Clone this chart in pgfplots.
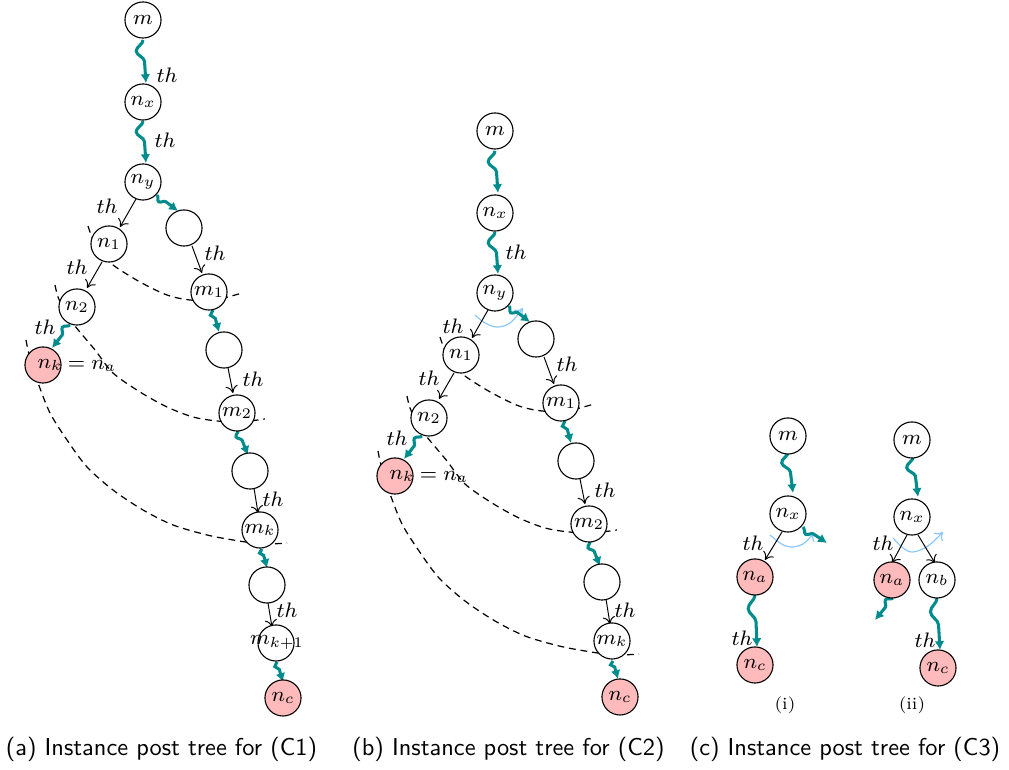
\RequirePackage{fix-cm}
\documentclass[border=0pt]{standalone}
\usepackage{pgfplots}
\pgfplotsset{compat=1.18}
\usetikzlibrary{decorations.pathmorphing,arrows.meta}
\definecolor{tealc}{RGB}{0,140,140}
\definecolor{pinkc}{RGB}{255,187,187}
\definecolor{bluec}{RGB}{140,200,250}
\newcommand\lf{\fontsize{8.6}{10}\selectfont}
\tikzset{
  wv/.style 2 args={draw=tealc, line width=1.25pt, decorate,
     decoration={snake, mirror, segment length=#1, amplitude=#2, post length=3.6pt},
     -{Latex[length=3.6pt,width=4pt]}},
  ed/.style={draw=black, line width=0.4pt, -{To[length=3pt,width=5pt]}},
  dsh/.style={draw=black, line width=0.5pt, dash pattern=on 2.8pt off 2pt, smooth, tension=0.5},
  bl/.style={draw=bluec, line width=0.5pt, smooth, tension=0.6, -{To[length=3pt,width=5pt]}},
  nd/.style={only marks, mark=*, mark size=7.4pt, mark options={fill=white, draw=black, line width=0.45pt}},
  pk/.style={only marks, mark=*, mark size=7.4pt, mark options={fill=pinkc, draw=black, line width=0.45pt}},
}
\pgfplotsset{canvas/.style={
  scale only axis, width=413.69pt, height=315.7pt,
  xmin=0, xmax=1009, ymin=0, ymax=770, y dir=reverse,
  hide axis, clip=false, at={(0,0)}, anchor=south west}}
\begin{document}
\begin{tikzpicture}
\begin{axis}[canvas]
% ---------------- dashed arcs (a)
\addplot[dsh] coordinates {(88,226) (92,237) (100,251) (113,265) (140,282) (167,295) (190,300) (215,300) (242,293)};
\addplot[dsh] coordinates {(55,285) (58,297) (65,311) (75,326) (95,350) (113,373) (140,392) (167,407) (193,417) (217,421) (240,422) (265,419)};
\addplot[dsh] coordinates {(26,340) (28,350) (32,366) (38,383) (50,413) (67,440) (87,467) (113,490) (143,510) (173,525) (207,535) (233,540) (253,543) (270,544) (287,543)};
% ---------------- dashed arcs (b)
\addplot[dsh] coordinates {(440,337) (444,348) (452,362) (465,376) (492,393) (519,406) (542,411) (567,411) (594,404)};
\addplot[dsh] coordinates {(407,396) (410,408) (417,422) (427,437) (447,461) (465,484) (492,503) (519,518) (545,528) (569,532) (592,533) (617,530)};
\addplot[dsh] coordinates {(378,451) (380,461) (384,477) (390,494) (402,524) (419,551) (439,578) (465,601) (495,621) (525,636) (559,646) (585,651) (605,654) (622,655) (639,654)};
% ---------------- blue arcs
\addplot[bl] coordinates {(475,315) (485,323) (497,327) (510,323) (523,308)};
\addplot[bl] coordinates {(770,535) (780,543) (790,547) (803,544) (814,533)};
\addplot[bl] coordinates {(893,538) (903,548) (913,552) (928,546) (943,532)};
% ---------------- black edges (a)
\addplot[ed] coordinates {(136,199) (120,227)};
\addplot[ed] coordinates {(192,246) (202,273)};
\addplot[ed] coordinates {(102,262) (87,288)};
\addplot[ed] coordinates {(228,368) (233,393)};
\addplot[ed] coordinates {(254,488) (258,513)};
\addplot[ed] coordinates {(268,603) (272,627)};
% ---------------- black edges (b)
\addplot[ed] coordinates {(488,310) (472,338)};
\addplot[ed] coordinates {(544,357) (554,384)};
\addplot[ed] coordinates {(454,373) (439,399)};
\addplot[ed] coordinates {(580,479) (585,504)};
\addplot[ed] coordinates {(606,599) (610,624)};
% ---------------- black edges (c)
\addplot[ed] coordinates {(782,532) (765,560)};
\addplot[ed] coordinates {(907,535) (892,563)};
\addplot[ed] coordinates {(918,535) (935,563)};
% ---------------- waves (a)
\addplot[wv={14pt}{3.1pt}] coordinates {(143,40) (146,83)};
\addplot[wv={13.6pt}{3.1pt}] coordinates {(143,121) (146,163)};
\addplot[wv={7.2pt}{1.8pt}] coordinates {(157,195) (178,211)};
\addplot[wv={8.4pt}{1.9pt}] coordinates {(70,325) (52,348)};
\addplot[wv={5.7pt}{1.6pt}] coordinates {(213,310) (219,332)};
\addplot[wv={7.4pt}{1.8pt}] coordinates {(238,430) (248,455)};
\addplot[wv={4.4pt}{1.4pt}] coordinates {(262,549) (267,568)};
\addplot[wv={5pt}{1.4pt}] coordinates {(277,662) (283,682)};
% ---------------- waves (b)
\addplot[wv={13.6pt}{3.1pt}] coordinates {(495,151) (498,193)};
\addplot[wv={13.6pt}{3.1pt}] coordinates {(495,232) (498,274)};
\addplot[wv={7.2pt}{1.8pt}] coordinates {(509,306) (530,322)};
\addplot[wv={8.4pt}{1.9pt}] coordinates {(422,436) (404,459)};
\addplot[wv={5.7pt}{1.6pt}] coordinates {(565,421) (571,443)};
\addplot[wv={7.4pt}{1.8pt}] coordinates {(590,541) (600,566)};
\addplot[wv={4.1pt}{1.4pt}] coordinates {(613,661) (618,679)};
% ---------------- waves (c)
\addplot[wv={13.2pt}{3.1pt}] coordinates {(788,452) (793,493)};
\addplot[wv={8.2pt}{1.9pt}] coordinates {(803,527) (827,543)};
\addplot[wv={17.6pt}{3pt}] coordinates {(755,595) (757,647)};
\addplot[wv={12.9pt}{3.1pt}] coordinates {(913,457) (918,497)};
\addplot[wv={8pt}{1.9pt}] coordinates {(893,598) (875,620)};
\addplot[wv={17.7pt}{3pt}] coordinates {(937,598) (940,650)};
% ---------------- nodes
\addplot[nd] coordinates {(143,20) (143,102) (143,182) (184,228) (109,244) (209,292) (77,307) (224,350) (237,413) (250,471) (260,530) (267,585) (276,643)};
\addplot[pk] coordinates {(43,365) (283,698)};
\addplot[nd] coordinates {(495,131) (495,213) (495,293) (536,339) (461,355) (561,403) (429,418) (576,461) (589,524) (602,582) (612,641)};
\addplot[pk] coordinates {(395,476) (620,697)};
\addplot[nd] coordinates {(788,436) (788,514) (912,440) (912,517) (937,580)};
\addplot[pk] coordinates {(755,577) (755,665) (892,580) (938,668)};
\end{axis}
\begin{axis}[canvas]
% ---------------- node labels (a)
\node[font=\lf] at (axis cs:143,20) {$m$};
\node[font=\lf] at (axis cs:143,102) {$n_x$};
\node[font=\lf] at (axis cs:143,182) {$n_y$};
\node[font=\lf] at (axis cs:109,244) {$n_1$};
\node[font=\lf] at (axis cs:209,292) {$m_1$};
\node[font=\lf] at (axis cs:77,307) {$n_2$};
\node[font=\lf] at (axis cs:237,413) {$m_2$};
\node[font=\lf] at (axis cs:260,530) {$m_k$};
\node[font=\lf] at (axis cs:277,643) {$m_{k+1}$};
\node[font=\lf] at (axis cs:283,698) {$n_c$};
\node[font=\lf] at (axis cs:50,365) {$n_k$};
\node[font=\lf] at (axis cs:92,366) {$=n_a$};
% ---------------- node labels (b)
\node[font=\lf] at (axis cs:495,131) {$m$};
\node[font=\lf] at (axis cs:495,213) {$n_x$};
\node[font=\lf] at (axis cs:495,293) {$n_y$};
\node[font=\lf] at (axis cs:461,355) {$n_1$};
\node[font=\lf] at (axis cs:561,403) {$m_1$};
\node[font=\lf] at (axis cs:429,418) {$n_2$};
\node[font=\lf] at (axis cs:589,524) {$m_2$};
\node[font=\lf] at (axis cs:612,641) {$m_k$};
\node[font=\lf] at (axis cs:620,697) {$n_c$};
\node[font=\lf] at (axis cs:402,476) {$n_k$};
\node[font=\lf] at (axis cs:444,477) {$=n_a$};
% ---------------- node labels (c)
\node[font=\lf] at (axis cs:788,436) {$m$};
\node[font=\lf] at (axis cs:788,514) {$n_x$};
\node[font=\lf] at (axis cs:755,577) {$n_a$};
\node[font=\lf] at (axis cs:755,665) {$n_c$};
\node[font=\lf] at (axis cs:912,440) {$m$};
\node[font=\lf] at (axis cs:912,517) {$n_x$};
\node[font=\lf] at (axis cs:892,580) {$n_a$};
\node[font=\lf] at (axis cs:937,580) {$n_b$};
\node[font=\lf] at (axis cs:938,668) {$n_c$};
% ---------------- th labels
\node[font=\lf] at (axis cs:167,75) {$th$};
\node[font=\lf] at (axis cs:165,140) {$th$};
\node[font=\lf] at (axis cs:107,206) {$th$};
\node[font=\lf] at (axis cs:215,253) {$th$};
\node[font=\lf] at (axis cs:77,267) {$th$};
\node[font=\lf] at (axis cs:45,327) {$th$};
\node[font=\lf] at (axis cs:253,379) {$th$};
\node[font=\lf] at (axis cs:273,499) {$th$};
\node[font=\lf] at (axis cs:287,610) {$th$};
\node[font=\lf] at (axis cs:516,252) {$th$};
\node[font=\lf] at (axis cs:453,326) {$th$};
\node[font=\lf] at (axis cs:567,364) {$th$};
\node[font=\lf] at (axis cs:429,378) {$th$};
\node[font=\lf] at (axis cs:397,438) {$th$};
\node[font=\lf] at (axis cs:605,490) {$th$};
\node[font=\lf] at (axis cs:625,610) {$th$};
\node[font=\lf] at (axis cs:753,543) {$th$};
\node[font=\lf] at (axis cs:742,638) {$th$};
\node[font=\lf] at (axis cs:883,543) {$th$};
\node[font=\lf] at (axis cs:925,640) {$th$};
% ---------------- sub labels and captions
\node[font=\fontsize{7}{8}\selectfont] at (axis cs:785,705) {(i)};
\node[font=\fontsize{7}{8}\selectfont] at (axis cs:912,705) {(ii)};
\node[font=\sffamily\fontsize{10}{12}\selectfont] at (axis cs:161.5,749) {(a) Instance post tree for (C1)};
\node[font=\sffamily\fontsize{10}{12}\selectfont] at (axis cs:508.5,749) {(b) Instance post tree for (C2)};
\node[font=\sffamily\fontsize{10}{12}\selectfont] at (axis cs:845,749) {(c) Instance post tree for (C3)};
\end{axis}
\pgfresetboundingbox
\path[use as bounding box] (current axis.south west) rectangle (current axis.north east);
\end{tikzpicture}
\end{document}
